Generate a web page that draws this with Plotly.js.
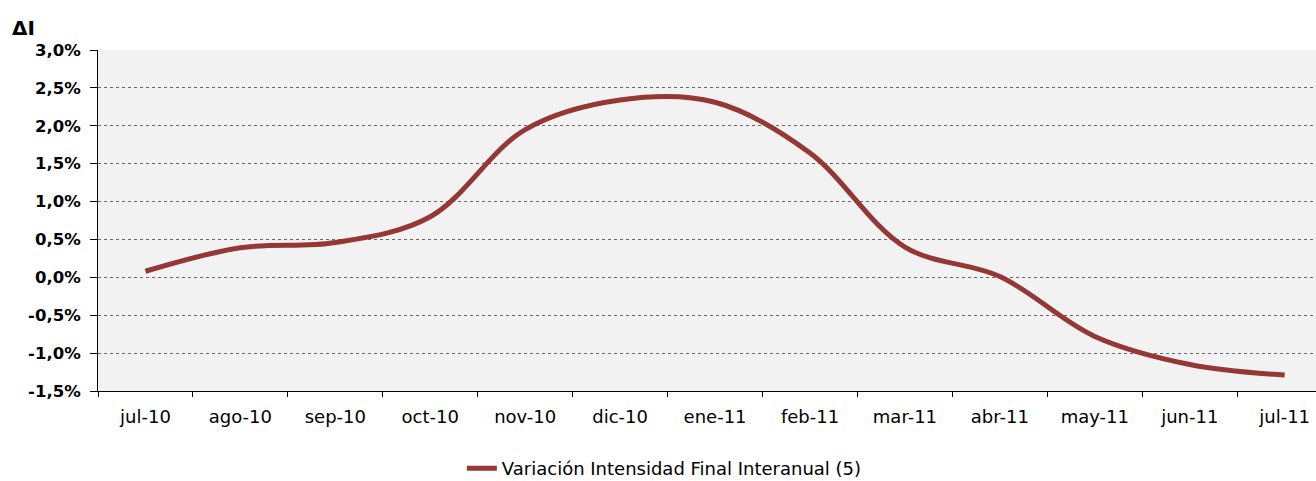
<!DOCTYPE html>
<html>
<head>
<meta charset="utf-8">
<script src="https://cdn.plot.ly/plotly-3.0.1.min.js"></script>
<style>html,body{margin:0;padding:0;background:#fff;}#chart{width:1316px;height:481px;}</style>
</head>
<body>
<div id="chart"></div>
<script>
const categories = ['jul-10','ago-10','sep-10','oct-10','nov-10','dic-10','ene-11','feb-11','mar-11','abr-11','may-11','jun-11','jul-11'];
const variacion = [0.08, 0.39, 0.46, 0.80, 1.95, 2.34, 2.31, 1.64, 0.40, 0.01, -0.78, -1.15, -1.29];
const yTicks = [-1.5, -1.0, -0.5, 0, 0.5, 1.0, 1.5, 2.0, 2.5, 3.0];
const yTickLabels = ['-1,5%', '-1,0%', '-0,5%', '0,0%', '0,5%', '1,0%', '1,5%', '2,0%', '2,5%', '3,0%'];
const seriesName = 'Variación Intensidad Final Interanual (5)';
const yTitle = 'ΔI';

const trace = {
  x: categories,
  y: variacion,
  type: 'scatter',
  mode: 'lines',
  name: seriesName,
  line: {color: '#953735', width: 5, shape: 'spline', smoothing: 1}
};

const layout = {
  width: 1316, height: 481,
  margin: {l: 98, r: 0, t: 50, b: 90, autoexpand: false},
  paper_bgcolor: '#ffffff',
  plot_bgcolor: '#f2f2f2',
  showlegend: true,
  legend: {
    orientation: 'h', x: 0.465, xanchor: 'center',
    yref: 'container', y: 0.026, yanchor: 'middle',
    font: {family: 'DejaVu Sans, sans-serif', size: 18, color: '#000'},
    bgcolor: 'rgba(0,0,0,0)'
  },
  xaxis: {
    type: 'category',
    range: [-0.5, 12.33],
    showgrid: false,
    showline: true, linecolor: '#000', linewidth: 1,
    ticks: 'outside', tickson: 'boundaries', ticklen: 5, tickcolor: '#000',
    ticklabelstandoff: 9,
    tickfont: {family: 'DejaVu Sans, sans-serif', size: 18, color: '#000'},
    zeroline: false
  },
  yaxis: {
    range: [-1.5, 3.0],
    tickmode: 'array',
    tickvals: yTicks,
    ticktext: yTickLabels,
    showgrid: true, gridcolor: '#666', griddash: 'dot', gridwidth: 1,
    showline: true, linecolor: '#000', linewidth: 1,
    ticks: 'outside', ticklen: 7, tickcolor: '#000',
    ticklabelstandoff: 6,
    tickfont: {family: 'DejaVu Sans, sans-serif', size: 16.5, color: '#000', weight: 'bold'},
    zeroline: false
  },
  annotations: [{
    text: '<b>' + yTitle + '</b>',
    xref: 'paper', yref: 'paper',
    x: -0.072, y: 1.0, xanchor: 'left', yanchor: 'bottom', yshift: 8,
    showarrow: false,
    font: {family: 'DejaVu Sans, sans-serif', size: 20, color: '#000'}
  }]
};

Plotly.newPlot('chart', [trace], layout, {displayModeBar: false});
</script>
</body>
</html>
